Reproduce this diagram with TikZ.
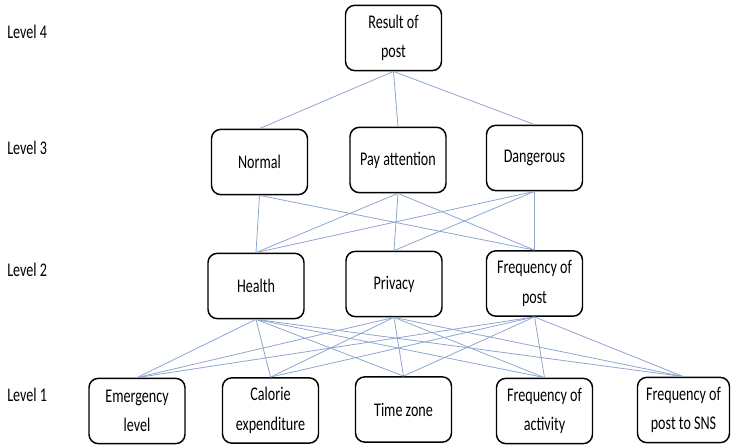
\documentclass[tikz,border=0pt]{standalone}
\usepackage{fontspec}
\setmainfont{Carlito}[FakeStretch=0.73]
\usepackage{tikz}

\tikzset{
  crit/.style={draw=black, line width=1.1pt, rounded corners=7pt, fill=white,
    minimum width=72pt, minimum height=49pt, align=center, inner sep=1pt,
    font=\fontsize{14.5}{22}\selectfont},
  lvl/.style={anchor=west, inner sep=0pt, font=\fontsize{14.5}{16}\selectfont},
  link/.style={draw={rgb,255:red,142;green,166;blue,206}, line width=0.6pt}
}

\begin{document}
\begin{tikzpicture}[x=0.75pt,y=0.75pt,yscale=-1,xscale=1]
\useasboundingbox (0,0) rectangle (731,448);

% level labels
\node[lvl] (l4) at (7,32) {Level 4};
\node[lvl] (l3) at (7,148) {Level 3};
\node[lvl] (l2) at (7,270) {Level 2};
\node[lvl] (l1) at (7,395) {Level 1};

% level 4
\node[crit] (result) at (393.5,38) {Result of\\post};

% level 3
\node[crit] (normal) at (259.5,162) {Normal};
\node[crit] (payatt) at (398,160) {Pay attention};
\node[crit] (danger) at (534.5,158) {Dangerous};

% level 2
\node[crit] (health) at (256,286) {Health};
\node[crit] (privacy) at (394,284) {Privacy};
\node[crit] (freqpost) at (534.5,283.5) {Frequency of\\post};

% level 1
\node[crit] (emerg) at (137,411) {Emergency\\level};
\node[crit] (calorie) at (270.5,410.5) {Calorie\\expenditure};
\node[crit] (timezone) at (403.5,409.5) {Time zone};
\node[crit] (freqact) at (544.5,411) {Frequency of\\activity};
\node[crit, minimum width=69pt] (sns) at (683.5,410) {Frequency of\\post to SNS};

% links 4-3
\foreach \b in {normal,payatt,danger}
  \draw[link] (result.south) -- (\b.north);

% links 3-2
\draw[link] (normal.south) -- (health.north);
\draw[link] (normal.south) -- (freqpost.north);
\foreach \a in {payatt,danger}
  \foreach \b in {health,privacy,freqpost}
    \draw[link] (\a.south) -- (\b.north);

% links 2-1
\foreach \a in {health,privacy,freqpost}
  \foreach \b in {emerg,calorie,timezone,freqact,sns}
    \draw[link] (\a.south) -- (\b.north);

\end{tikzpicture}
\end{document}
